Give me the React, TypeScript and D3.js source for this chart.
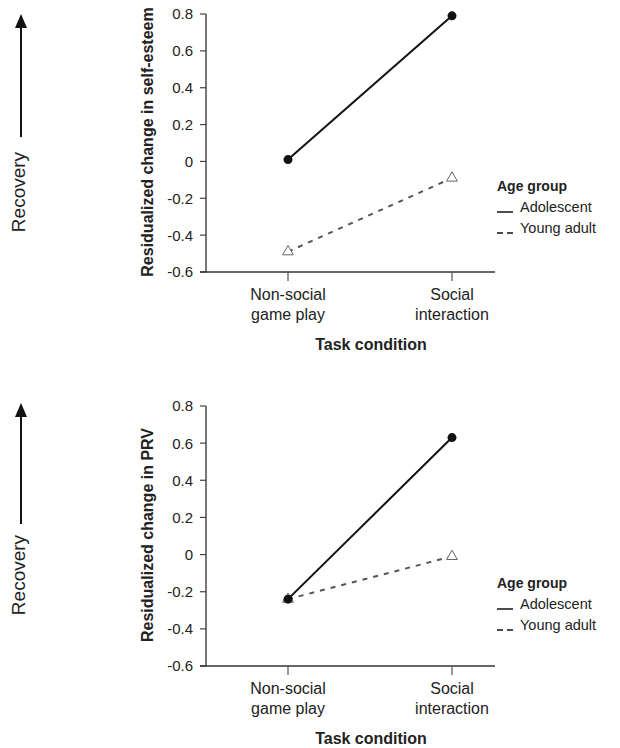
import React, { useEffect, useRef } from "react";
import * as d3 from "d3";

const conditions = ["Non-social game play", "Social interaction"];
const conditionLines = [
  ["Non-social", "game play"],
  ["Social", "interaction"],
];
const groups = ["Adolescent", "Young adult"];
const yTicks = [0.8, 0.6, 0.4, 0.2, 0, -0.2, -0.4, -0.6];

// panel 1: self-esteem
const selfEsteemAdolescent = [0.01, 0.79];
const selfEsteemYoungAdult = [-0.49, -0.09];
// panel 2: PRV
const prvAdolescent = [-0.24, 0.63];
const prvYoungAdult = [-0.24, -0.01];

const panels = [
  {
    title: "Residualized change in self-esteem",
    series: [selfEsteemAdolescent, selfEsteemYoungAdult],
    top: 14,
    bottom: 272,
    arrow: [14, 137],
    recoveryY: 192,
    legendY: 191,
  },
  {
    title: "Residualized change in PRV",
    series: [prvAdolescent, prvYoungAdult],
    top: 406,
    bottom: 666,
    arrow: [403, 524],
    recoveryY: 575,
    legendY: 588,
  },
];

const font = "'Liberation Sans', Arial, sans-serif";

const drawChart = (svgEl: SVGSVGElement) => {
  const svg = d3.select(svgEl);
  svg.selectAll("*").remove();

  const axisLeft = 206;
  const axisRight = 495;

  const x = d3.scalePoint<string>().domain(conditions).range([288, 452]);

  panels.forEach((p) => {
    const y = d3.scaleLinear().domain([-0.6, 0.8]).range([p.bottom, p.top]);
    const g = svg.append("g");

    // Recovery arrow
    const [aTop, aBottom] = p.arrow;
    g.append("line")
      .attr("x1", 21)
      .attr("x2", 21)
      .attr("y1", aBottom)
      .attr("y2", aTop + 10)
      .attr("stroke", "#111")
      .attr("stroke-width", 2);
    g.append("path")
      .attr("d", `M${21 - 6},${aTop + 14} L21,${aTop} L${21 + 6},${aTop + 14} Z`)
      .attr("fill", "#111");
    g.append("text")
      .attr("transform", `translate(25, ${p.recoveryY}) rotate(-90)`)
      .attr("text-anchor", "middle")
      .attr("font-family", font)
      .attr("font-size", 19)
      .attr("fill", "#222")
      .text("Recovery");

    // y axis
    g.append("line")
      .attr("x1", axisLeft)
      .attr("x2", axisLeft)
      .attr("y1", p.top)
      .attr("y2", p.bottom)
      .attr("stroke", "#555")
      .attr("stroke-width", 1.6);
    yTicks.forEach((t) => {
      g.append("line")
        .attr("x1", axisLeft - 6)
        .attr("x2", axisLeft)
        .attr("y1", y(t))
        .attr("y2", y(t))
        .attr("stroke", "#444")
        .attr("stroke-width", 1.2);
      g.append("text")
        .attr("x", axisLeft - 13)
        .attr("y", y(t))
        .attr("dy", "0.36em")
        .attr("text-anchor", "end")
        .attr("font-family", font)
        .attr("font-size", 15)
        .attr("fill", "#222")
        .text(String(t));
    });
    g.append("text")
      .attr("transform", `translate(153, ${(p.top + p.bottom) / 2 - 1}) rotate(-90)`)
      .attr("text-anchor", "middle")
      .attr("font-family", font)
      .attr("font-size", 16)
      .attr("font-weight", "bold")
      .attr("fill", "#222")
      .text(p.title);

    // x axis
    g.append("line")
      .attr("x1", axisLeft - 6)
      .attr("x2", axisRight)
      .attr("y1", p.bottom)
      .attr("y2", p.bottom)
      .attr("stroke", "#333")
      .attr("stroke-width", 1.6);
    conditions.forEach((c, i) => {
      g.append("line")
        .attr("x1", x(c)!)
        .attr("x2", x(c)!)
        .attr("y1", p.bottom)
        .attr("y2", p.bottom + 9)
        .attr("stroke", "#555")
        .attr("stroke-width", 1.2);
      conditionLines[i].forEach((ln, j) => {
        g.append("text")
          .attr("x", x(c)!)
          .attr("y", p.bottom + 28 + j * 20)
          .attr("text-anchor", "middle")
          .attr("font-family", font)
          .attr("font-size", 16)
          .attr("fill", "#222")
          .text(ln);
      });
    });
    g.append("text")
      .attr("x", 371)
      .attr("y", p.bottom + 78)
      .attr("text-anchor", "middle")
      .attr("font-family", font)
      .attr("font-size", 16)
      .attr("font-weight", "bold")
      .attr("fill", "#222")
      .text("Task condition");

    // lines
    const line = d3
      .line<number>()
      .x((_, i) => x(conditions[i])!)
      .y((d) => y(d));

    const [adol, young] = p.series;
    g.append("path")
      .datum(young)
      .attr("d", line)
      .attr("fill", "none")
      .attr("stroke", "#555")
      .attr("stroke-width", 2)
      .attr("stroke-dasharray", "5,6");
    g.append("path")
      .datum(adol)
      .attr("d", line)
      .attr("fill", "none")
      .attr("stroke", "#111")
      .attr("stroke-width", 2);

    const tri = d3.symbol().type(d3.symbolTriangle).size(50);
    young.forEach((v, i) => {
      g.append("path")
        .attr("d", tri)
        .attr("transform", `translate(${x(conditions[i])}, ${y(v)})`)
        .attr("fill", "white")
        .attr("stroke", "#555")
        .attr("stroke-width", 0.9);
    });
    adol.forEach((v, i) => {
      g.append("circle")
        .attr("cx", x(conditions[i])!)
        .attr("cy", y(v))
        .attr("r", 4.5)
        .attr("fill", "#111");
    });

    // legend
    const lx = 497;
    g.append("text")
      .attr("x", lx)
      .attr("y", p.legendY)
      .attr("font-family", font)
      .attr("font-size", 14)
      .attr("font-weight", "bold")
      .attr("fill", "#222")
      .text("Age group");
    groups.forEach((gr, i) => {
      const ty = p.legendY + 21 + i * 21;
      g.append("line")
        .attr("x1", lx)
        .attr("x2", lx + 16)
        .attr("y1", ty)
        .attr("y2", ty)
        .attr("stroke", "#111")
        .attr("stroke-width", 1.5)
        .attr("stroke-dasharray", i === 0 ? null : "6,4");
      g.append("text")
        .attr("x", lx + 23)
        .attr("y", ty)
        .attr("font-family", font)
        .attr("font-size", 14.5)
        .attr("fill", "#222")
        .text(gr);
    });
  });
};

const App = () => {
  const svgRef = useRef<SVGSVGElement>(null);

  useEffect(() => {
    if (svgRef.current) drawChart(svgRef.current);
  }, []);

  return (
    <svg
      ref={svgRef}
      width={620}
      height={748}
      style={{ position: "absolute", left: 0, top: 0, background: "white" }}
    />
  );
};

export default App;
